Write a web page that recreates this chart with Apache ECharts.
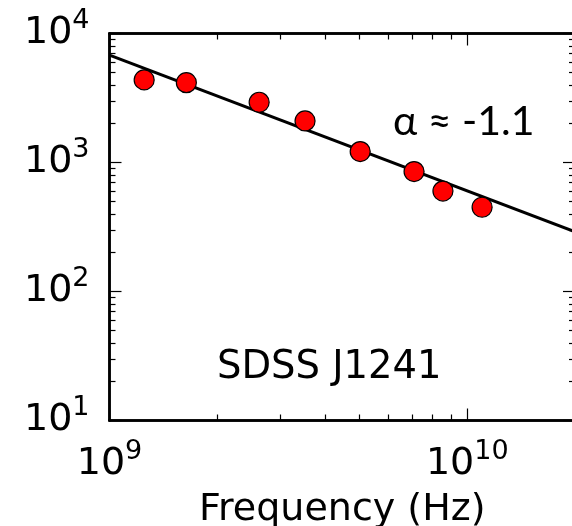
<!DOCTYPE html>
<html>
<head>
<meta charset="utf-8">
<script src="https://cdn.jsdelivr.net/npm/echarts@6/dist/echarts.min.js"></script>
<style>
  html, body { margin: 0; padding: 0; background: #fff; }
  #chart { width: 572px; height: 526px; }
</style>
</head>
<body>
<div id="chart"></div>
<script>
var freqHz = [1.25e9, 1.64e9, 2.62e9, 3.52e9, 5.02e9, 7.1e9, 8.55e9, 1.10e10];
var fluxVals = [4370, 4160, 2930, 2100, 1215, 850, 600, 450];
// power-law fit line end points
var fitFreq = [1e9, 2e10];
var fitFlux = [6800, 290];

var xRange = [1e9, 2e10];
var yRange = [10, 1e4];
var xMajor = [1e9, 1e10];
var yMajor = [10, 100, 1000, 10000];
var xMinor = [2e9, 3e9, 4e9, 5e9, 6e9, 7e9, 8e9, 9e9];
var yMinor = [20, 30, 40, 50, 60, 70, 80, 90,
              200, 300, 400, 500, 600, 700, 800, 900,
              2000, 3000, 4000, 5000, 6000, 7000, 8000, 9000];

var FONT = 'DejaVu Sans';
var chart = echarts.init(document.getElementById('chart'));

function powLabel(v) {
  return '{b|10}{s|' + Math.round(Math.log10(v)) + '}';
}
var labelRich = {
  b: { fontFamily: FONT, fontSize: 38, lineHeight: 52, color: '#000' },
  s: { fontFamily: FONT, fontSize: 27, lineHeight: 27, verticalAlign: 'top', color: '#000' }
};

// one axis = one set of ticks (major or minor) on one side
function makeAxis(pos, range, ticks, tickLen, showLabel, margin) {
  return {
    type: 'log',
    logBase: 10,
    position: pos,
    min: range[0],
    max: range[1],
    splitLine: { show: false },
    axisLine: { show: true, onZero: false, lineStyle: { color: '#000', width: 2.5 } },
    axisTick: { show: true, inside: true, length: tickLen, customValues: ticks,
      lineStyle: { color: '#000', width: 1.2 } },
    minorTick: { show: false },
    axisLabel: {
      show: showLabel,
      margin: margin,
      customValues: ticks,
      formatter: powLabel,
      rich: labelRich
    }
  };
}

var xBottom = makeAxis('bottom', xRange, xMajor, 12, true, 18);
xBottom.name = 'Frequency (Hz)';
xBottom.nameLocation = 'middle';
xBottom.nameGap = 71;
xBottom.nameTextStyle = { fontFamily: FONT, fontSize: 38, color: '#000' };

var option = {
  animation: false,
  backgroundColor: '#fff',
  grid: { left: 109.5, top: 33.5, right: -3, bottom: 105.5, containLabel: false, outerBoundsMode: 'none' },
  xAxis: [
    xBottom,
    makeAxis('bottom', xRange, xMinor, 6, false, 8),
    makeAxis('top', xRange, xMajor, 12, false, 8),
    makeAxis('top', xRange, xMinor, 6, false, 8)
  ],
  yAxis: [
    makeAxis('left', yRange, yMajor, 12, true, 20),
    makeAxis('left', yRange, yMinor, 6, false, 8),
    makeAxis('right', yRange, yMajor, 12, false, 8),
    makeAxis('right', yRange, yMinor, 6, false, 8)
  ],
  series: [
    {
      type: 'line',
      data: fitFreq.map(function (f, i) { return [f, fitFlux[i]]; }),
      showSymbol: false,
      lineStyle: { color: '#000', width: 3 },
      z: 2
    },
    {
      type: 'scatter',
      data: freqHz.map(function (f, i) { return [f, fluxVals[i]]; }),
      symbol: 'circle',
      symbolSize: 20,
      itemStyle: { color: '#ff0000', borderColor: '#000', borderWidth: 1.2, opacity: 1 },
      z: 3
    }
  ],
  graphic: [
    {
      type: 'text',
      left: 393,
      top: 101,
      style: { text: 'α ≈ -1.1', fontFamily: 'Lato', fontSize: 41, fill: '#000' }
    },
    {
      type: 'text',
      left: 217,
      top: 348,
      style: { text: 'SDSS J1241', fontFamily: FONT, fontSize: 38.5, fill: '#000' }
    }
  ]
};

chart.setOption(option);
</script>
</body>
</html>
